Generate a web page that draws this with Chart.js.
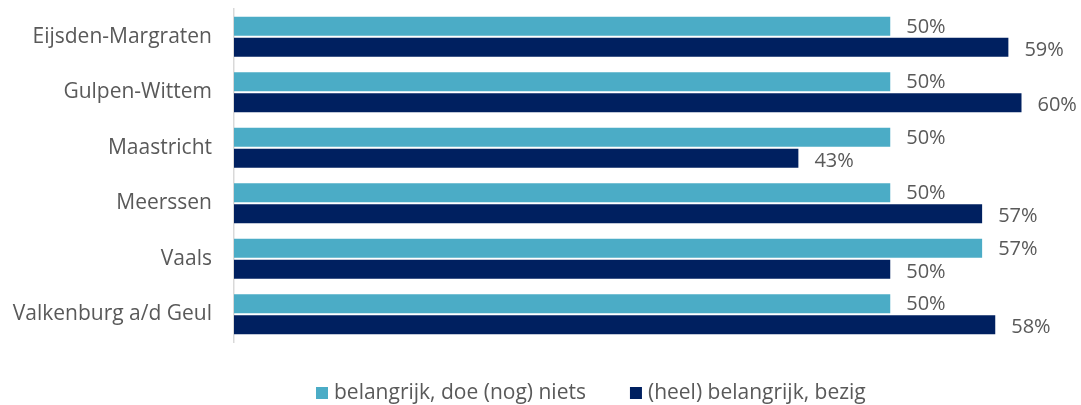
<!DOCTYPE html>
<html>
<head>
<meta charset="utf-8">
<script src="https://cdn.jsdelivr.net/npm/chart.js@4.4.1/dist/chart.umd.min.js"></script>
<style>
  html, body { margin: 0; padding: 0; background: #fff; }
  #wrap { width: 1081px; height: 405px; }
</style>
</head>
<body>
<div id="wrap"><canvas id="grafico"></canvas></div>
<script>
// data
var gemeenten = ['Eijsden-Margraten', 'Gulpen-Wittem', 'Maastricht', 'Meerssen', 'Vaals', 'Valkenburg a/d Geul'];
var belangrijkNiets = [50, 50, 50, 50, 57, 50];
var heelBelangrijkBezig = [59, 60, 43, 57, 50, 58];
var reeksNamen = ['belangrijk, doe (nog) niets', '(heel) belangrijk, bezig'];
var kleuren = ['#4BACC6', '#002060'];

var fontFam = '"Open Sans", "Liberation Sans", sans-serif';
var tekstKleur = '#595959';

// percentages naast de balken
var labelsPlugin = {
    id: 'balkLabels',
    afterDatasetsDraw: function (chart) {
        var ctx = chart.ctx;
        ctx.save();
        ctx.font = '20px ' + fontFam;
        ctx.fillStyle = tekstKleur;
        ctx.textBaseline = 'middle';
        ctx.textAlign = 'left';
        chart.data.datasets.forEach(function (ds, i) {
            chart.getDatasetMeta(i).data.forEach(function (bar, j) {
                ctx.fillText(ds.data[j] + '%', bar.x + 16, bar.y + (i === 1 ? 3 : 1));
            });
        });
        ctx.restore();
    }
};

// legenda onderaan
var legendaPlugin = {
    id: 'legenda',
    afterDraw: function (chart) {
        var ctx = chart.ctx;
        ctx.save();
        ctx.font = '21px ' + fontFam;
        ctx.textBaseline = 'middle';
        var box = 12, gapTxt = 6, gapItem = 44, y = 393;
        var x = 316;
        chart.data.datasets.forEach(function (ds) {
            ctx.fillStyle = ds.backgroundColor;
            ctx.fillRect(x, y - box / 2, box, box);
            x += box + gapTxt;
            ctx.fillStyle = tekstKleur;
            ctx.fillText(ds.label, x, y);
            x += ctx.measureText(ds.label).width + gapItem;
        });
        ctx.restore();
    }
};

var contexto = document.getElementById('grafico').getContext('2d');
var myChart = new Chart(contexto, {
    type: 'bar',
    data: {
        labels: gemeenten,
        datasets: [
            { label: reeksNamen[0], data: belangrijkNiets, backgroundColor: kleuren[0] },
            { label: reeksNamen[1], data: heelBelangrijkBezig, backgroundColor: kleuren[1] }
        ]
    },
    options: {
        indexAxis: 'y',
        responsive: true,
        maintainAspectRatio: false,
        animation: false,
        datasets: { bar: { categoryPercentage: 0.76, barPercentage: 0.9 } },
        layout: { padding: { top: 9, right: 7, left: 0, bottom: 0 } },
        plugins: {
            legend: { display: false },
            tooltip: { enabled: false }
        },
        scales: {
            x: {
                min: 0,
                max: 64,
                grid: { display: false, drawTicks: false },
                border: { display: false },
                ticks: { display: false },
                afterFit: function (scale) { scale.height = 63; }
            },
            y: {
                grid: { display: false, drawTicks: false },
                border: { display: true, color: '#D9D9D9', width: 1.5 },
                ticks: {
                    color: tekstKleur,
                    padding: 22,
                    font: { family: fontFam, size: 21 }
                },
                afterFit: function (scale) {
                    scale.width = 234;
                    scale.paddingTop = 0;
                    scale.paddingBottom = 0;
                }
            }
        }
    },
    plugins: [labelsPlugin, legendaPlugin]
});
</script>
</body>
</html>
